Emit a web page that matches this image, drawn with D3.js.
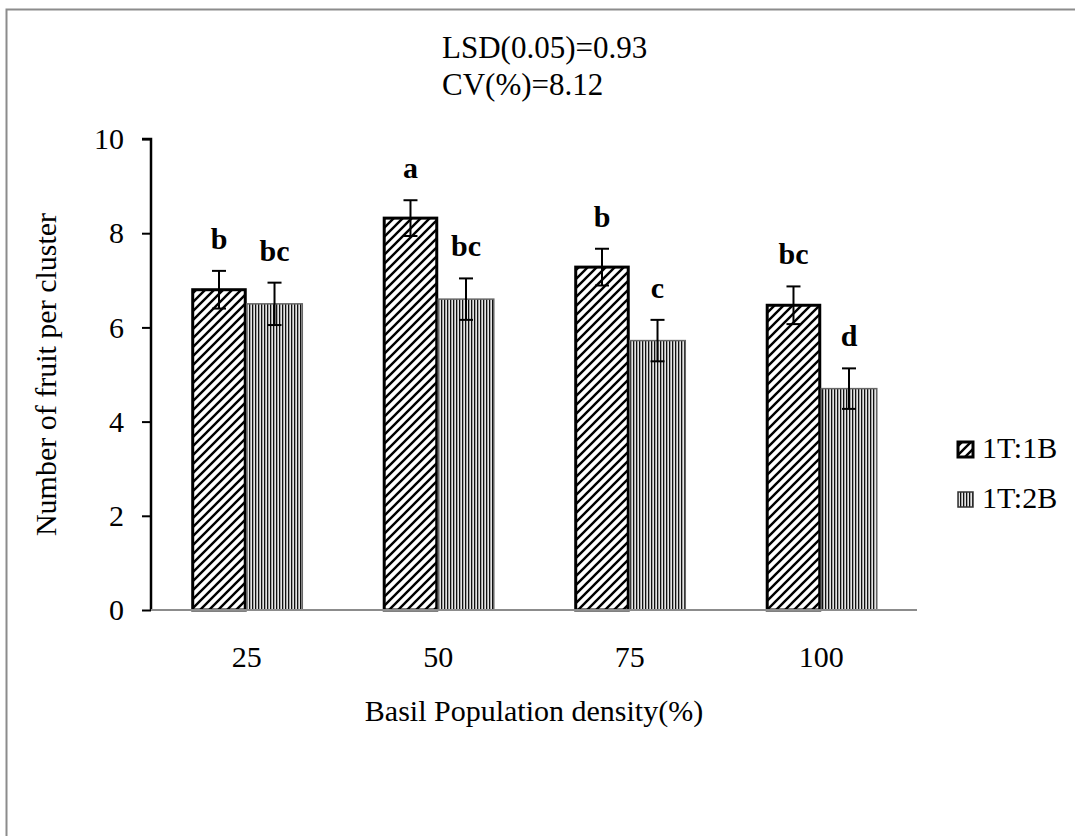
<!DOCTYPE html>
<html>
<head>
<meta charset="utf-8">
<script src="https://cdn.jsdelivr.net/npm/d3@7"></script>
<style>
  html, body { margin: 0; padding: 0; background: #fff; }
  svg { display: block; font-family: "Liberation Serif", "Times New Roman", "DejaVu Serif", serif; }
</style>
</head>
<body>
<svg id="chart" width="1075" height="836"></svg>
<script>
// ---- data ----
const categories = ["25", "50", "75", "100"];
const seriesNames = ["1T:1B", "1T:2B"];
const values1T1B = [6.80, 8.32, 7.28, 6.47];
const values1T2B = [6.50, 6.60, 5.72, 4.70];
const errors1T1B = [0.40, 0.38, 0.39, 0.40];
const errors1T2B = [0.45, 0.44, 0.44, 0.43];
const letters1T1B = ["b", "a", "b", "bc"];
const letters1T2B = ["bc", "bc", "c", "d"];
const yTicks = [0, 2, 4, 6, 8, 10];
const statLines = ["LSD(0.05)=0.93", "CV(%)=8.12"];
const xTitle = "Basil Population density(%)";
const yTitle = "Number of fruit per cluster";

// ---- layout ----
const SERIF = "Liberation Serif, Times New Roman, serif";
const svg = d3.select("#chart");
const plot = { left: 151, right: 917, top: 139, bottom: 610 };
const FONT = 30;

const defs = svg.append("defs");
const hatch = defs.append("pattern").attr("id", "hatch")
  .attr("patternUnits", "userSpaceOnUse").attr("width", 9).attr("height", 9);
hatch.append("rect").attr("width", 9).attr("height", 9).attr("fill", "#fff");
hatch.append("path").attr("d", "M-2,2 L2,-2 M0,9 L9,0 M7,11 L11,7")
  .attr("stroke", "#000").attr("stroke-width", 2.4);

const vert = defs.append("pattern").attr("id", "vert")
  .attr("patternUnits", "userSpaceOnUse").attr("width", 3).attr("height", 10);
vert.append("rect").attr("width", 3).attr("height", 10).attr("fill", "#e4e4e4");
vert.append("rect").attr("x", 0).attr("width", 1.3).attr("height", 10).attr("fill", "#111");

// outer frame
svg.append("rect").attr("x", 6.5).attr("y", 9.5).attr("width", 1200).attr("height", 1000)
  .attr("fill", "none").attr("stroke", "#8c8c8c").attr("stroke-width", 2);

const x0 = d3.scaleBand().domain(categories).range([plot.left, plot.right])
  .paddingInner(0.42).paddingOuter(0.21);
const x1 = d3.scaleBand().domain(seriesNames).range([0, x0.bandwidth()]);
const y = d3.scaleLinear().domain([0, 10]).range([plot.bottom, plot.top]);

const series = [
  { name: seriesNames[0], values: values1T1B, errors: errors1T1B, letters: letters1T1B,
    fill: "url(#hatch)", stroke: "#000", sw: 3 },
  { name: seriesNames[1], values: values1T2B, errors: errors1T2B, letters: letters1T2B,
    fill: "url(#vert)", stroke: "#666", sw: 1.5 }
];

// bars
series.forEach((s, si) => {
  const g = svg.append("g");
  const data = categories.map((c, i) => ({ c, v: s.values[i] }));
  g.selectAll("rect.bar").data(data).join("rect")
    .attr("class", "bar")
    .attr("x", d => x0(d.c) + x1(s.name) + (si === 0 ? s.sw / 2 : 0))
    .attr("y", d => y(d.v))
    .attr("width", x1.bandwidth() - (si === 0 ? s.sw : 0))
    .attr("height", d => y(0) - y(d.v))
    .attr("fill", s.fill).attr("stroke", s.stroke).attr("stroke-width", s.sw);
});

// y axis
const yAxis = d3.axisLeft(y).tickValues(yTicks).tickSize(9).tickPadding(18);
const yg = svg.append("g").attr("transform", `translate(${plot.left},0)`).call(yAxis);
yg.attr("font-family", SERIF);
yg.select(".domain").attr("stroke", "#000").attr("stroke-width", 2.5)
  .attr("d", `M-9,${plot.top}H0V${plot.bottom}`);
yg.selectAll(".tick line").attr("stroke", "#000").attr("stroke-width", 2);
yg.selectAll(".tick text").attr("font-size", FONT).attr("font-family", SERIF)
  .attr("fill", "#000");

// x axis
const xAxis = d3.axisBottom(x0).tickSize(0).tickPadding(0);
const xg = svg.append("g").attr("transform", `translate(0,${plot.bottom})`).call(xAxis);
xg.attr("font-family", SERIF);
xg.select(".domain").attr("stroke", "#8c8c8c").attr("stroke-width", 2)
  .attr("d", `M${plot.left},0H${plot.right}`);
xg.selectAll(".tick text").attr("font-size", FONT).attr("font-family", SERIF)
  .attr("fill", "#000").attr("dy", null).attr("y", 57);

// error bars + letters
series.forEach((s) => {
  const g = svg.append("g");
  categories.forEach((c, i) => {
    const cx = x0(c) + x1(s.name) + x1.bandwidth() / 2;
    const top = y(s.values[i] + s.errors[i]);
    const bot = y(s.values[i] - s.errors[i]);
    g.append("line").attr("x1", cx).attr("x2", cx).attr("y1", top).attr("y2", bot)
      .attr("stroke", "#000").attr("stroke-width", 2);
    [top, bot].forEach(yy => g.append("line").attr("x1", cx - 7).attr("x2", cx + 7)
      .attr("y1", yy).attr("y2", yy).attr("stroke", "#000").attr("stroke-width", 2));
    g.append("text").attr("x", cx).attr("y", top - 22)
      .attr("text-anchor", "middle").attr("font-size", FONT).attr("font-weight", "bold")
      .text(s.letters[i]);
  });
});

// stats text
svg.append("g").selectAll("text").data(statLines).join("text")
  .attr("x", 442).attr("y", (d, i) => 58 + i * 37)
  .attr("font-size", 31).attr("fill", "#000").text(d => d);

// axis titles
svg.append("text").attr("x", (plot.left + plot.right) / 2).attr("y", 721)
  .attr("text-anchor", "middle").attr("font-size", FONT).text(xTitle);
svg.append("text").attr("transform", `translate(56,${(plot.top + plot.bottom) / 2}) rotate(-90)`)
  .attr("text-anchor", "middle").attr("font-size", FONT).text(yTitle);

// legend
const lg = svg.append("g");
series.forEach((s, i) => {
  const yy = 442 + i * 50;
  lg.append("rect").attr("x", 958).attr("y", yy).attr("width", 15).attr("height", 15)
    .attr("fill", s.fill).attr("stroke", i === 0 ? "#000" : "#333")
    .attr("stroke-width", i === 0 ? 3 : 1.5);
  lg.append("text").attr("x", 982).attr("y", yy + 16).attr("font-size", FONT)
    .text(s.name);
});
</script>
</body>
</html>
